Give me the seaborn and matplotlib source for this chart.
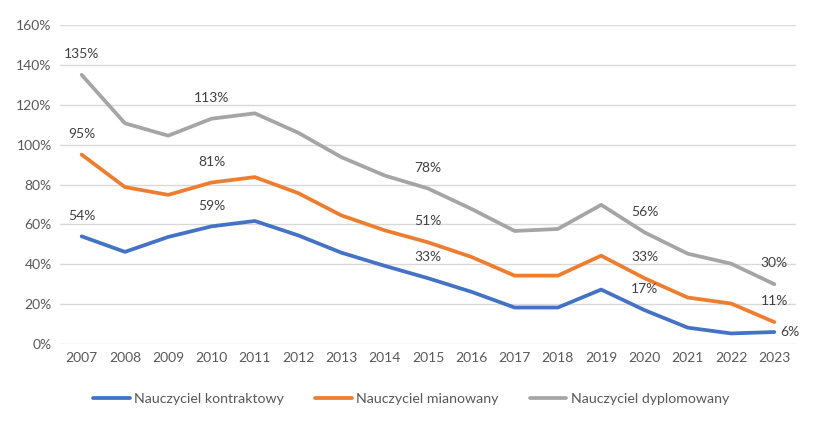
import matplotlib
matplotlib.use("Agg")
import matplotlib.pyplot as plt
import seaborn as sns
import pandas as pd
from matplotlib.ticker import FuncFormatter
from matplotlib.lines import Line2D

years = list(range(2007, 2024))
kontraktowy = [54, 46.2, 53.7, 59, 61.7, 54.5, 45.8, 39.2, 33, 26.2, 18.3, 18.3, 27.3, 17, 8.2, 5.3, 6]
mianowany = [95, 78.7, 74.8, 81, 83.7, 75.7, 64.5, 57, 51, 43.7, 34.3, 34.3, 44.3, 33, 23.3, 20.3, 11]
dyplomowany = [135, 110.7, 104.5, 113, 115.7, 106, 93.7, 84.5, 78, 67.8, 56.7, 57.7, 69.8, 56, 45.3, 40.3, 30]
series_names = ["Nauczyciel kontraktowy", "Nauczyciel mianowany", "Nauczyciel dyplomowany"]
label_years = [2007, 2010, 2015, 2020, 2023]
colors = ["#4472C4", "#ED7D31", "#A5A5A5"]

sns.set_theme(style="white")
plt.rcParams["font.family"] = ["Lato", "DejaVu Sans"]

rows = []
for name, vals in zip(series_names, [kontraktowy, mianowany, dyplomowany]):
    for y, v in zip(years, vals):
        rows.append({"Rok": y, "Wartość": v, "Seria": name})
df = pd.DataFrame(rows)

fig = plt.figure(figsize=(8.23, 4.24), dpi=100)
ax = fig.add_axes([60/823, 1-344/424, 736/823, 319/424])

sns.lineplot(data=df, x="Rok", y="Wartość", hue="Seria", hue_order=series_names,
             palette=colors, linewidth=2.7, ax=ax, legend=False)

ax.set_xlim(2006.5, 2023.5)
ax.set_ylim(0, 160)
ax.set_yticks(range(0, 161, 20))
ax.yaxis.set_major_formatter(FuncFormatter(lambda v, p: f"{int(v)}%"))
ax.set_xticks(years)
ax.set_xticklabels([str(y) for y in years])
ax.grid(axis="y", color="#D9D9D9", linewidth=1)
ax.set_axisbelow(True)
for s in ax.spines.values():
    s.set_visible(False)
ax.tick_params(axis="both", length=0, labelsize=10, colors="#595959", pad=6)
ax.set_xlabel("")
ax.set_ylabel("")

for name, vals in zip(series_names, [kontraktowy, mianowany, dyplomowany]):
    for y, v in zip(years, vals):
        if y in label_years:
            if y == 2023 and name == series_names[0]:
                ax.annotate(f"{round(v)}%", (y, v), xytext=(4, 0), textcoords="offset points",
                            ha="left", va="center", fontsize=10, color="#404040")
            else:
                ax.annotate(f"{round(v)}%", (y, v), xytext=(0, 15), textcoords="offset points",
                            ha="center", va="center", fontsize=10, color="#404040")

handles = [Line2D([0], [0], color=c, linewidth=2.7) for c in colors]
fig.legend(handles, series_names, loc="center left", bbox_to_anchor=(80/823, 1-399/424),
           ncol=3, frameon=False, fontsize=10.2, handlelength=2.6, handletextpad=0.3,
           columnspacing=2.2, labelcolor="#595959")

fig.savefig("out.png", dpi=100)
